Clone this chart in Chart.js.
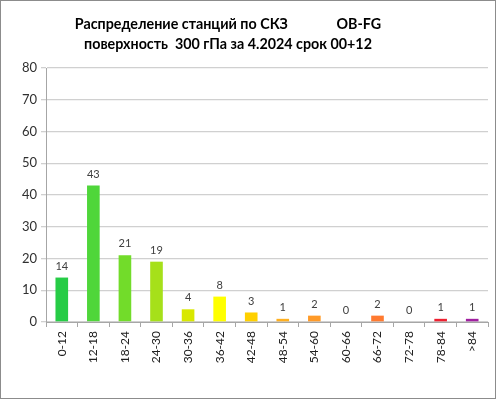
<!DOCTYPE html>
<html>
<head>
<meta charset="utf-8">
<script src="https://cdn.jsdelivr.net/npm/chart.js@4"></script>
<style>
  html, body { margin: 0; padding: 0; background: #fff; }
  #wrap { width: 496px; height: 399px; }
</style>
</head>
<body>
<div id="wrap"><canvas id="chart" width="496" height="399"></canvas></div>
<script>
const categories = ["0-12", "12-18", "18-24", "24-30", "30-36", "36-42", "42-48",
  "48-54", "54-60", "60-66", "66-72", "72-78", "78-84", ">84"];
const counts = [14, 43, 21, 19, 4, 8, 3, 1, 2, 0, 2, 0, 1, 1];
const barColors = ["#26cc46", "#4fd63a", "#72dc2a", "#a6e01a", "#d8e800", "#ffff00", "#ffd000",
  "#ffb020", "#ff9a28", "#ff8c28", "#ff7a30", "#ff5030", "#ee2030", "#a020a0"];
const yTicks = [0, 10, 20, 30, 40, 50, 60, 70, 80];
const titleLines = ["Распределение станций по СКЗ              OB-FG",
  "поверхность  300 гПа за 4.2024 срок 00+12"];

const FONT = "Lato, 'Open Sans', sans-serif";

// title (off-centre like the original), value labels, outer frame
const extras = {
  id: "extras",
  afterDatasetsDraw(chart) {
    const ctx = chart.ctx;
    const meta = chart.getDatasetMeta(0);
    ctx.save();
    ctx.font = "11px " + FONT;
    ctx.fillStyle = "#404040";
    ctx.textAlign = "center";
    ctx.textBaseline = "bottom";
    meta.data.forEach((bar, i) => {
      ctx.fillText(String(counts[i]), bar.x, bar.y - 6);
    });
    ctx.restore();
  },
  afterDraw(chart) {
    const ctx = chart.ctx;
    ctx.save();
    ctx.font = "bold 14.3px " + FONT;
    ctx.fillStyle = "#000";
    ctx.textAlign = "center";
    ctx.textBaseline = "middle";
    titleLines.forEach((t, i) => ctx.fillText(t, 228, 24 + i * 20));
    ctx.strokeStyle = "#8c8c8c";
    ctx.lineWidth = 1;
    ctx.strokeRect(0.5, 0.5, chart.width - 1, chart.height - 1);
    ctx.restore();
  }
};

new Chart(document.getElementById("chart"), {
  type: "bar",
  data: {
    labels: categories,
    datasets: [
      {
        data: counts,
        backgroundColor: barColors,
        borderWidth: 0,
        barPercentage: 0.4,
        categoryPercentage: 1,
      },
    ],
  },
  options: {
    responsive: false,
    animation: false,
    layout: { padding: { top: 68, right: 8, bottom: 6, left: 0 } },
    plugins: {
      legend: { display: false },
      tooltip: { enabled: false },
      title: { display: false },
    },
    scales: {
      x: {
        grid: { offset: true, drawOnChartArea: false, tickLength: 5, color: "#a6a6a6" },
        border: { color: "#a6a6a6" },
        ticks: {
          color: "#202020",
          font: { family: FONT, size: 12 },
          minRotation: 90,
          maxRotation: 90,
          padding: 4,
        },
        afterFit(scale) { scale.height = 71; },
      },
      y: {
        min: 0,
        max: 80,
        afterBuildTicks(scale) { scale.ticks = yTicks.map((v) => ({ value: v })); },
        grid: { color: "#d0d0d0", lineWidth: 1.3, tickLength: 5 },
        border: { color: "#a6a6a6" },
        ticks: {
          color: "#303030",
          font: { family: FONT, size: 13 },
          padding: 4,
        },
        afterFit(scale) { scale.width = 46; },
      },
    },
  },
  plugins: [extras],
});
</script>
</body>
</html>
